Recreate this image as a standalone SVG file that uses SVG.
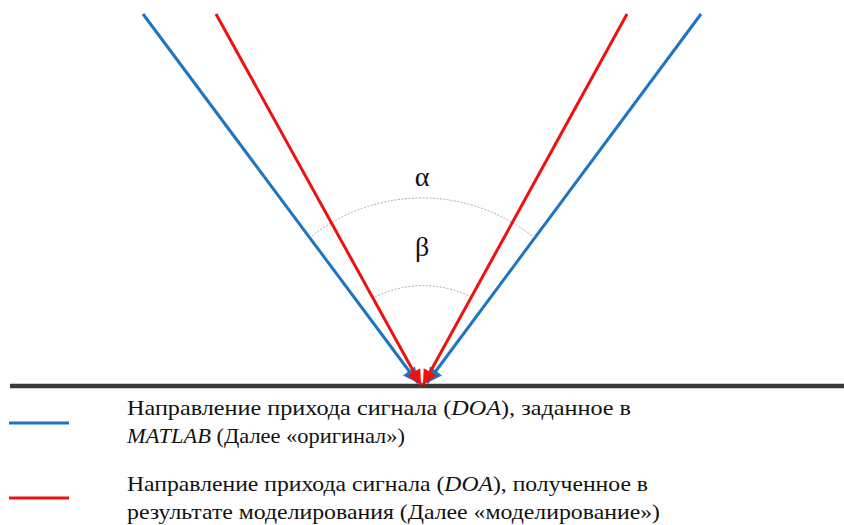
<svg xmlns="http://www.w3.org/2000/svg" width="844" height="525" viewBox="0 0 844 525">
<style>
.blue{stroke:#1f74c1;stroke-width:3;fill:none}
.red{stroke:#ee1111;stroke-width:3;fill:none}
.arc{stroke:#aaaaaa;stroke-width:1;fill:none;stroke-dasharray:2 1.5}
.t{font-size:21.5px;fill:#111}
.g{font-size:28px;fill:#111}
</style>
<defs>
<marker id="ab" viewBox="0 0 10 10" refX="10" refY="5" markerWidth="6" markerHeight="5" orient="auto" markerUnits="strokeWidth"><path d="M0,0 L10,5 L0,10 z" fill="#1f74c1"/></marker>
<marker id="ar" viewBox="0 0 10 10" refX="10" refY="5" markerWidth="6.5" markerHeight="5" orient="auto" markerUnits="strokeWidth"><path d="M0,0 L10,5 L0,10 z" fill="#ee1111"/></marker>
</defs>
<rect width="844" height="525" fill="#fff"/>
<g id="ground"><line x1="10" y1="386" x2="844" y2="386" stroke="#3a3a3a" stroke-width="4.5"/></g>
<g id="arcs">
<path class="arc" d="M312,236 A178,178 0 0 1 532,236"/>
<path class="arc" d="M375,297 A107,107 0 0 1 471,297"/>
</g>
<g id="connectors">
<line class="blue" x1="143" y1="14" x2="418" y2="383" marker-end="url(#ab)"/>
<line class="blue" x1="701" y1="14" x2="427" y2="383" marker-end="url(#ab)"/>
<line class="red" x1="216" y1="14" x2="421" y2="385" marker-end="url(#ar)"/>
<line class="red" x1="627" y1="14" x2="423" y2="385" marker-end="url(#ar)"/>
</g>
<g id="labels" font-family="Liberation Serif, DejaVu Serif, serif">
<text class="g" x="422" y="186" text-anchor="middle">α</text>
<text class="g" x="422" y="256" text-anchor="middle">β</text>
</g>
<g id="legend-original" font-family="Liberation Serif, DejaVu Serif, serif">
<line x1="9" y1="423" x2="69" y2="423" stroke="#1f74c1" stroke-width="3"/>
<text class="t" x="127" y="415" textLength="504" lengthAdjust="spacingAndGlyphs">Направление прихода сигнала (<tspan font-style="italic">DOA</tspan>), заданное в</text>
<text class="t" x="127" y="443" textLength="278" lengthAdjust="spacingAndGlyphs"><tspan font-style="italic">MATLAB</tspan> (Далее «оригинал»)</text>
</g>
<g id="legend-model" font-family="Liberation Serif, DejaVu Serif, serif">
<line x1="9" y1="498" x2="69" y2="498" stroke="#ee1111" stroke-width="3"/>
<text class="t" x="127" y="491" textLength="521" lengthAdjust="spacingAndGlyphs">Направление прихода сигнала (<tspan font-style="italic">DOA</tspan>), полученное в</text>
<text class="t" x="127" y="519" textLength="533" lengthAdjust="spacingAndGlyphs">результате моделирования (Далее «моделирование»)</text>
</g>
</svg>
